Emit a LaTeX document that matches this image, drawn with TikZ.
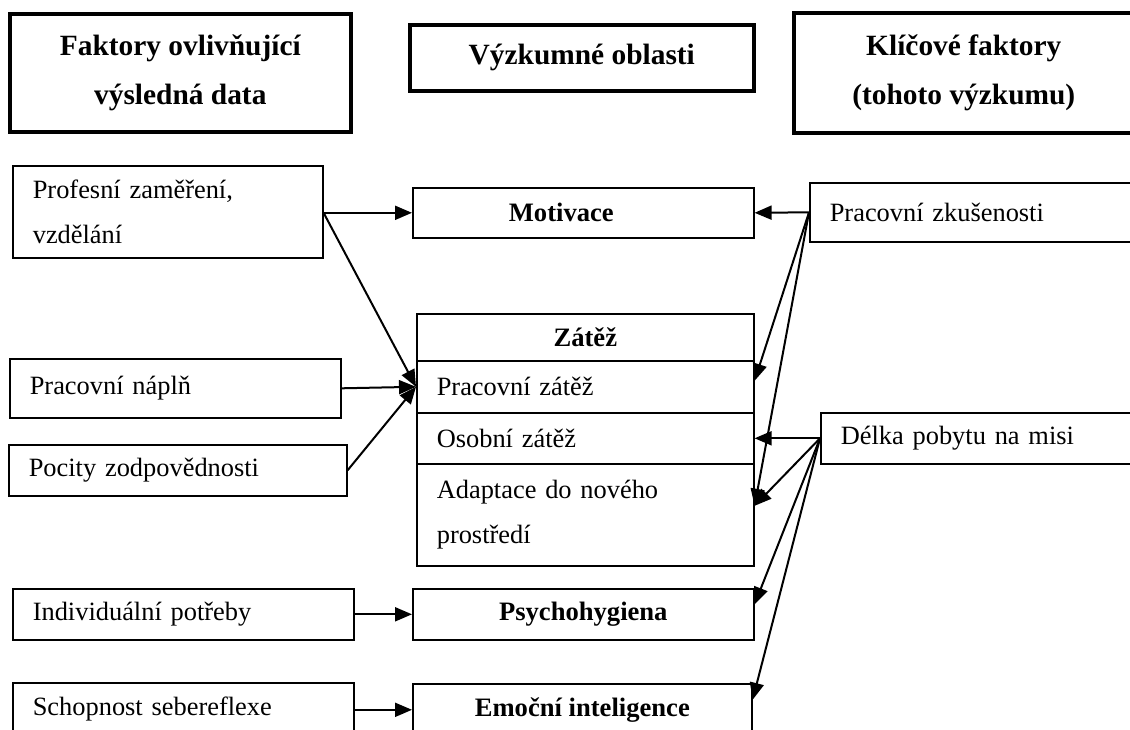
\documentclass[tikz,border=0pt]{standalone}
\usepackage{fontspec}
\setmainfont{Liberation Serif}
\usetikzlibrary{arrows.meta}
\tikzset{
  box/.style={draw, line width=0.8pt, rectangle, inner ysep=0pt,
    font=\fontsize{13.2pt}{22.5pt}\selectfont},
  lbox/.style={box, inner xsep=10pt, align=left, anchor=north west},
  cbox/.style={box, inner xsep=0pt, align=center, anchor=north west,
    font=\fontsize{13.3pt}{22.5pt}\selectfont\bfseries},
  head/.style={draw, line width=1.8pt, rectangle, inner sep=0pt, align=center,
    anchor=north west, font=\fontsize{14.7pt}{24.5pt}\selectfont\bfseries},
  arr/.style={line width=1pt, -{Triangle[length=8.5pt,width=7pt]}},
}
\begin{document}
\begin{tikzpicture}[x=0.5pt,y=-0.5pt]
\useasboundingbox (0,0) rectangle (1130,729);
\clip (0,0) rectangle (1130,729);

% column headings
\node[head, minimum width=170.5pt, minimum height=59pt] (h1) at (8,12)
  {Faktory ovlivňující\\výsledná data};
\node[head, minimum width=172pt, minimum height=33pt] (h2) at (408,23)
  {Výzkumné oblasti};
\node[head, minimum width=170pt, minimum height=60pt] (h3) at (792,11)
  {Klíčové faktory\\(tohoto výzkumu)};

% influencing factors
\node[lbox, text width=135pt, minimum height=46pt] (prof) at (12,165)
  {Profesní zaměření,\\vzdělání};
\node[lbox, text width=145.5pt, minimum height=29.5pt] (napl) at (9,358)
  {Pracovní náplň};
\node[lbox, text width=149pt, minimum height=25.5pt] (poc) at (8,444)
  {Pocity zodpovědnosti};
\node[lbox, text width=150.5pt, minimum height=25.5pt] (ind) at (12,588)
  {Individuální potřeby};
\node[lbox, text width=150.5pt, minimum height=26pt] (seb) at (12,682)
  {Schopnost sebereflexe};

% research areas
\node[cbox, minimum width=170.5pt, minimum height=25pt] (mot) at (412,187)
  {Motivace\hspace*{22pt}};
\node[cbox, minimum width=168.5pt, minimum height=23.5pt] (zt) at (416,313)
  {Zátěž};
\node[lbox, text width=148.5pt, minimum height=26pt] (r1) at (416,360)
  {Pracovní zátěž};
\node[lbox, text width=148.5pt, minimum height=25.5pt] (r2) at (416,412)
  {Osobní zátěž};
\node[lbox, text width=148.5pt, minimum height=51pt] (r3) at (416,463)
  {Adaptace do nového\\prostředí};
\node[cbox, minimum width=170.5pt, minimum height=25.5pt] (psy) at (412,588)
  {Psychohygiena};
\node[cbox, minimum width=169.5pt, minimum height=26pt] (emo) at (412,683)
  {Emoční inteligence};

% key factors
\node[lbox, text width=142.5pt, minimum height=29.5pt] (pz) at (809,182)
  {Pracovní zkušenosti};
\node[lbox, text width=137pt, minimum height=25.5pt] (dl) at (820,412)
  {Délka pobytu na misi};

% connectors from the left
\draw[arr] (prof.east |- mot.west) -- (mot.west);
\draw[arr] (prof.east |- mot.west) -- (r1.west);
\draw[arr] (napl.east) -- (r1.west);
\draw[arr] (poc.east) -- (r1.west);
\draw[arr] (ind.east) -- (psy.west);
\draw[arr] (seb.east |- emo.west) -- (emo.west);

% connectors from the right
\draw[arr] (pz.west) -- (mot.east);
\draw[arr] (pz.west) -- ([yshift=3pt]r1.east);
\draw[arr] (pz.west) -- ([yshift=4.5pt]r3.east);
\draw[arr] (dl.west) -- (r2.east);
\draw[arr] (dl.west) -- ([yshift=4.5pt]r3.east);
\draw[arr] (dl.west) -- ([yshift=5pt]psy.east);
\draw[arr] (dl.west) -- ([yshift=5pt]emo.east);
\end{tikzpicture}
\end{document}
